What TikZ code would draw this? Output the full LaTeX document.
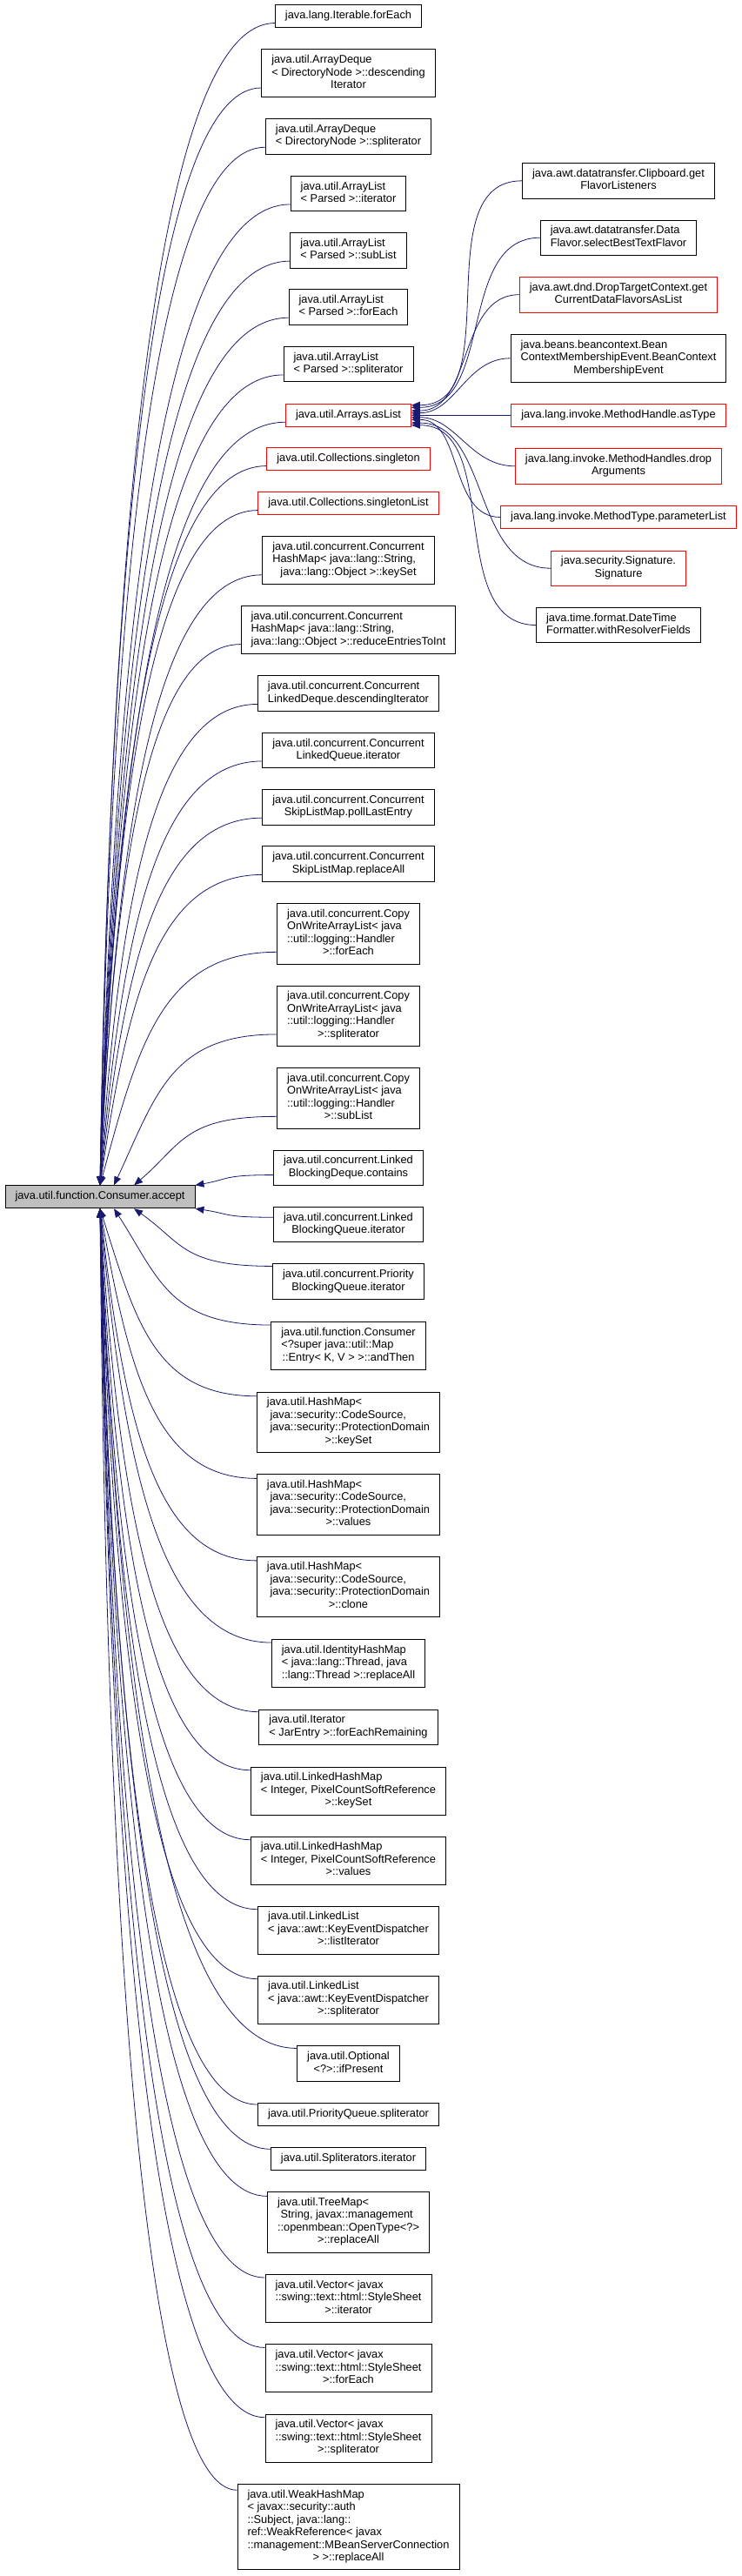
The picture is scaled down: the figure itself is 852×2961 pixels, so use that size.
\documentclass[tikz,border=0pt]{standalone}
\usepackage{fontspec}
\setmainfont{Liberation Sans}
\usetikzlibrary{arrows.meta,calc}
\definecolor{GvEdge}{HTML}{191970}
\definecolor{GvGray}{HTML}{BFBFBF}
\definecolor{GvRed}{HTML}{FF0000}
\newcommand{\lab}[2]{\begin{tabular}{@{}l@{}}#1\\\multicolumn{1}{@{}c@{}}{#2}\end{tabular}}
\newcommand{\one}[1]{\begin{tabular}{@{}c@{}}#1\end{tabular}}
\tikzset{
  fnode/.style={draw=black,line width=0.9pt,fill=white,inner xsep=11.5pt,inner ysep=5.75pt,
                font=\fontsize{12.8}{14.5}\selectfont},
  fnodered/.style={fnode,draw=GvRed},
  fnodecur/.style={fnode,fill=GvGray},
  dep/.style={-{Triangle[length=10pt,width=8pt]},GvEdge,line width=0.8pt},
  fan/.style={dep,to path={let \p1=(\tikztostart),\p2=(\tikztotarget),\n1={\x1-\x2},\n2={\y2-\y1} in
      .. controls ($(\p1)+({-0.65*\n1},0pt)$)
      and ($(\p2)+({0.5*\n1*(\n1/(\n1+abs(\n2)))},{-0.6*\n2})$) .. (\tikztotarget)}},
}

\begin{document}
\begin{tikzpicture}[x=1pt,y=-1pt]
  \useasboundingbox (0,0) rectangle (852,2961);

  \node[fnodecur] (acc) at (115,1375.8) {\one{java.util.function.Consumer.accept}};

  % callers
  \node[fnode] (iter) at (400.5,18.5) {\one{java.lang.Iterable.forEach}};
  \node[fnode] (adqDesc) at (400.5,84.2) {\lab{java.util.ArrayDeque\\< DirectoryNode >::descending}{Iterator}};
  \node[fnode] (adqSplit) at (400.5,156.8) {\lab{java.util.ArrayDeque}{< DirectoryNode >::spliterator}};
  \node[fnode] (alIter) at (400.5,222.5) {\lab{java.util.ArrayList}{< Parsed >::iterator}};
  \node[fnode] (alSub) at (400.5,287.7) {\lab{java.util.ArrayList}{< Parsed >::subList}};
  \node[fnode] (alEach) at (400.5,352.8) {\lab{java.util.ArrayList}{< Parsed >::forEach}};
  \node[fnode] (alSplit) at (400.5,418.5) {\lab{java.util.ArrayList}{< Parsed >::spliterator}};
  \node[fnodered] (asList) at (400.5,477.2) {\one{java.util.Arrays.asList}};
  \node[fnodered] (single) at (400.5,527.5) {\one{java.util.Collections.singleton}};
  \node[fnodered] (singleList) at (400.5,578.5) {\one{java.util.Collections.singletonList}};
  \node[fnode] (chmKey) at (400.5,644) {\lab{java.util.concurrent.Concurrent\\HashMap< java::lang::String,}{java::lang::Object >::keySet}};
  \node[fnode] (chmReduce) at (400.5,723.8) {\lab{java.util.concurrent.Concurrent\\HashMap< java::lang::String,}{java::lang::Object >::reduceEntriesToInt}};
  \node[fnode] (cldDesc) at (400.5,797) {\lab{java.util.concurrent.Concurrent}{LinkedDeque.descendingIterator}};
  \node[fnode] (clqIter) at (400.5,862.5) {\lab{java.util.concurrent.Concurrent}{LinkedQueue.iterator}};
  \node[fnode] (cslPoll) at (400.5,927.7) {\lab{java.util.concurrent.Concurrent}{SkipListMap.pollLastEntry}};
  \node[fnode] (cslRepl) at (400.5,993) {\lab{java.util.concurrent.Concurrent}{SkipListMap.replaceAll}};
  \node[fnode] (cowEach) at (400.5,1073.2) {\lab{java.util.concurrent.Copy\\OnWriteArrayList< java\\::util::logging::Handler}{>::forEach}};
  \node[fnode] (cowSplit) at (400.5,1167.8) {\lab{java.util.concurrent.Copy\\OnWriteArrayList< java\\::util::logging::Handler}{>::spliterator}};
  \node[fnode] (cowSub) at (400.5,1262.2) {\lab{java.util.concurrent.Copy\\OnWriteArrayList< java\\::util::logging::Handler}{>::subList}};
  \node[fnode] (lbdCont) at (400.5,1342.3) {\lab{java.util.concurrent.Linked}{BlockingDeque.contains}};
  \node[fnode] (lbqIter) at (400.5,1407.5) {\lab{java.util.concurrent.Linked}{BlockingQueue.iterator}};
  \node[fnode] (pbqIter) at (400.5,1473) {\lab{java.util.concurrent.Priority}{BlockingQueue.iterator}};
  \node[fnode] (consThen) at (400.5,1546.8) {\lab{java.util.function.Consumer\\<?super java::util::Map}{::Entry< K, V > >::andThen}};
  \node[fnode] (hmKey) at (400.5,1634.7) {\lab{java.util.HashMap<\\\ java::security::CodeSource,\\\ java::security::ProtectionDomain}{>::keySet}};
  \node[fnode] (hmVal) at (400.5,1729.3) {\lab{java.util.HashMap<\\\ java::security::CodeSource,\\\ java::security::ProtectionDomain}{>::values}};
  \node[fnode] (hmClone) at (400.5,1823.8) {\lab{java.util.HashMap<\\\ java::security::CodeSource,\\\ java::security::ProtectionDomain}{>::clone}};
  \node[fnode] (ihmRepl) at (400.5,1911.8) {\lab{java.util.IdentityHashMap\\< java::lang::Thread, java}{::lang::Thread >::replaceAll}};
  \node[fnode] (itJar) at (400.5,1985.3) {\lab{java.util.Iterator}{< JarEntry >::forEachRemaining}};
  \node[fnode] (lhmKey) at (400.5,2058.5) {\lab{java.util.LinkedHashMap\\< Integer, PixelCountSoftReference}{>::keySet}};
  \node[fnode] (lhmVal) at (400.5,2138.5) {\lab{java.util.LinkedHashMap\\< Integer, PixelCountSoftReference}{>::values}};
  \node[fnode] (llIter) at (400.5,2218.5) {\lab{java.util.LinkedList\\< java::awt::KeyEventDispatcher}{>::listIterator}};
  \node[fnode] (llSplit) at (400.5,2298.5) {\lab{java.util.LinkedList\\< java::awt::KeyEventDispatcher}{>::spliterator}};
  \node[fnode] (optIf) at (400.5,2372) {\lab{java.util.Optional}{<?>::ifPresent}};
  \node[fnode] (pqSplit) at (400.5,2430.5) {\one{java.util.PriorityQueue.spliterator}};
  \node[fnode] (splIter) at (400.5,2481.7) {\one{java.util.Spliterators.iterator}};
  \node[fnode] (tmRepl) at (400.5,2554.3) {\lab{java.util.TreeMap<\\\ String, javax::management\\::openmbean::OpenType<?>}{>::replaceAll}};
  \node[fnode] (vecIter) at (400.5,2641.8) {\lab{java.util.Vector< javax\\::swing::text::html::StyleSheet}{>::iterator}};
  \node[fnode] (vecEach) at (400.5,2722.2) {\lab{java.util.Vector< javax\\::swing::text::html::StyleSheet}{>::forEach}};
  \node[fnode] (vecSplit) at (400.5,2802.5) {\lab{java.util.Vector< javax\\::swing::text::html::StyleSheet}{>::spliterator}};
  \node[fnode] (whmRepl) at (400.5,2904.5) {\lab{java.util.WeakHashMap\\< javax::security::auth\\::Subject, java::lang::\\ref::WeakReference< javax\\::management::MBeanServerConnection}{> >::replaceAll}};

  % callers of Arrays.asList
  \node[fnode] (clipFl) at (711,207.8) {\lab{java.awt.datatransfer.Clipboard.get}{FlavorListeners}};
  \node[fnode] (dfBest) at (711,273.2) {\lab{java.awt.datatransfer.Data}{Flavor.selectBestTextFlavor}};
  \node[fnodered] (dtcFlav) at (711,338.7) {\lab{java.awt.dnd.DropTargetContext.get}{CurrentDataFlavorsAsList}};
  \node[fnode] (bcmEvt) at (711,411.8) {\lab{java.beans.beancontext.Bean\\ContextMembershipEvent.BeanContext}{MembershipEvent}};
  \node[fnodered] (mhType) at (711,477.2) {\one{java.lang.invoke.MethodHandle.asType}};
  \node[fnodered] (mhDrop) at (711,535.8) {\lab{java.lang.invoke.MethodHandles.drop}{Arguments}};
  \node[fnodered] (mtParam) at (711,594.5) {\one{java.lang.invoke.MethodType.parameterList}};
  \node[fnodered] (sigSig) at (711,653.2) {\lab{java.security.Signature.}{Signature}};
  \node[fnode] (dtfRes) at (711,718.5) {\lab{java.time.format.DateTime}{Formatter.withResolverFields}};

  % edges into accept, upper half
  \draw[fan] ($(iter.west)!.6!(iter.south west)$) to (acc.north);
  \draw[fan] ($(adqDesc.west)!.6!(adqDesc.south west)$) to (acc.north);
  \draw[fan] ($(adqSplit.west)!.6!(adqSplit.south west)$) to (acc.north);
  \draw[fan] ($(alIter.west)!.6!(alIter.south west)$) to (acc.north);
  \draw[fan] ($(alSub.west)!.6!(alSub.south west)$) to (acc.north);
  \draw[fan] ($(alEach.west)!.6!(alEach.south west)$) to (acc.north);
  \draw[fan] ($(alSplit.west)!.6!(alSplit.south west)$) to (acc.north);
  \draw[fan] ($(asList.west)!.6!(asList.south west)$) to (acc.north);
  \draw[fan] ($(single.west)!.6!(single.south west)$) to (acc.north);
  \draw[fan] ($(singleList.west)!.6!(singleList.south west)$) to (acc.north);
  \draw[fan] ($(chmKey.west)!.6!(chmKey.south west)$) to (acc.north);
  \draw[fan] ($(chmReduce.west)!.6!(chmReduce.south west)$) to (acc.north);
  \draw[fan] ($(cldDesc.west)!.6!(cldDesc.south west)$) to (acc.north);
  \draw[fan] ($(clqIter.west)!.6!(clqIter.south west)$) to (acc.north);
  \draw[fan] ($(cslPoll.west)!.6!(cslPoll.south west)$) to (acc.north);
  \draw[fan] ($(cslRepl.west)!.6!(cslRepl.south west)$) to (acc.north);
  \draw[fan] ($(cowEach.west)!.6!(cowEach.south west)$) to (acc.north);
  \draw[fan] ($(cowSplit.west)!.6!(cowSplit.south west)$) to (acc.40);
  \draw[fan] ($(cowSub.west)!.6!(cowSub.south west)$) to (acc.19);
  \draw[fan] ($(lbdCont.west)!.4!(lbdCont.south west)$) to (acc.north east);

  % edges into accept, lower half
  \draw[fan] ($(lbqIter.west)!.4!(lbqIter.north west)$) to (acc.south east);
  \draw[fan] ($(pbqIter.west)!.85!(pbqIter.north west)$) to (acc.341);
  \draw[fan] ($(consThen.west)!.85!(consThen.north west)$) to (acc.320);
  \draw[fan] ($(hmKey.west)!.85!(hmKey.north west)$) to (acc.south);
  \draw[fan] ($(hmVal.west)!.85!(hmVal.north west)$) to (acc.south);
  \draw[fan] ($(hmClone.west)!.85!(hmClone.north west)$) to (acc.south);
  \draw[fan] ($(ihmRepl.west)!.85!(ihmRepl.north west)$) to (acc.south);
  \draw[fan] ($(itJar.west)!.85!(itJar.north west)$) to (acc.south);
  \draw[fan] ($(lhmKey.west)!.85!(lhmKey.north west)$) to (acc.south);
  \draw[fan] ($(lhmVal.west)!.85!(lhmVal.north west)$) to (acc.south);
  \draw[fan] ($(llIter.west)!.85!(llIter.north west)$) to (acc.south);
  \draw[fan] ($(llSplit.west)!.85!(llSplit.north west)$) to (acc.south);
  \draw[fan] ($(optIf.west)!.85!(optIf.north west)$) to (acc.south);
  \draw[fan] ($(pqSplit.west)!.85!(pqSplit.north west)$) to (acc.south);
  \draw[fan] ($(splIter.west)!.85!(splIter.north west)$) to (acc.south);
  \draw[fan] ($(tmRepl.west)!.85!(tmRepl.north west)$) to (acc.south);
  \draw[fan] ($(vecIter.west)!.85!(vecIter.north west)$) to (acc.south);
  \draw[fan] ($(vecEach.west)!.85!(vecEach.north west)$) to (acc.south);
  \draw[fan] ($(vecSplit.west)!.85!(vecSplit.north west)$) to (acc.south);
  \draw[fan] ($(whmRepl.west)!.85!(whmRepl.north west)$) to (acc.south);

  % edges into Arrays.asList
  \draw[dep] (clipFl.west) to[out=180,in=0] (asList.9);
  \draw[dep] (dfBest.west) to[out=180,in=0] (asList.7);
  \draw[dep] (dtcFlav.west) to[out=180,in=0] (asList.4);
  \draw[dep] (bcmEvt.west) to[out=180,in=0] (asList.2);
  \draw[dep] (mhType.west) -- (asList.east);
  \draw[dep] (mhDrop.west) to[out=180,in=0] (asList.358);
  \draw[dep] (mtParam.west) to[out=180,in=0] (asList.356);
  \draw[dep] (sigSig.west) to[out=180,in=0] (asList.353);
  \draw[dep] (dtfRes.west) to[out=180,in=0] (asList.351);
\end{tikzpicture}
\end{document}
